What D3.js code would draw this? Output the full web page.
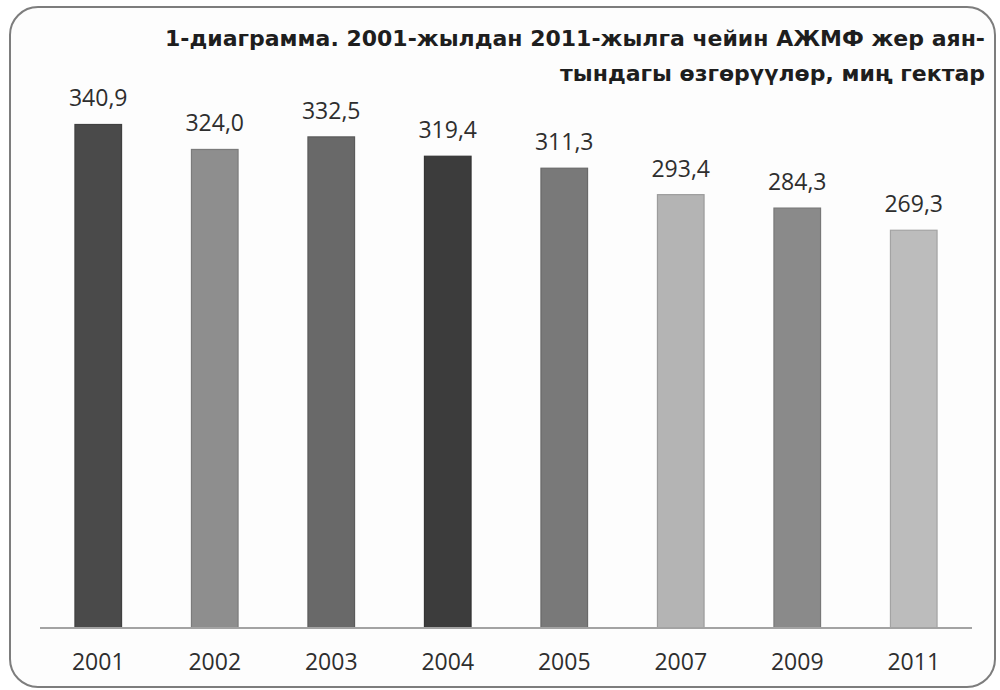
<!DOCTYPE html>
<html>
<head>
<meta charset="utf-8">
<script src="https://cdn.jsdelivr.net/npm/d3@7"></script>
<style>
body { margin:0; background:#fff; }
svg text { font-family: "Open Sans", sans-serif; }
</style>
</head>
<body>
<div id="chart"></div>
<script>
let years = ['2001','2002','2003','2004','2005','2007','2009','2011']
let values = [340.9, 324.0, 332.5, 319.4, 311.3, 293.4, 284.3, 269.3]
let bar_colors = ['#4a4a4a','#8e8e8e','#696969','#3c3c3c','#797979','#b4b4b4','#8a8a8a','#bcbcbc']
let title_lines = ['1-диаграмма. 2001-жылдан 2011-жылга чейин АЖМФ жер аян-',
  'тындагы өзгөрүүлөр, миң гектар']

let W = 1000, H = 690
let baseline_y = 628

let svg = d3.select('#chart').append('svg')
.attr('width', W)
.attr('height', H)

// frame
svg.append('rect')
.attr('x', 10)
.attr('y', 7)
.attr('width', 985)
.attr('height', 680)
.attr('rx', 28)
.attr('ry', 28)
.attr('fill', '#fdfdfd')
.attr('stroke', '#7d7d7d')
.attr('stroke-width', 2)

let x = d3.scaleBand()
.domain(years)
.range([40, 972])
.paddingInner(0.6)
.paddingOuter(0.3)

let y = d3.scaleLinear()
.domain([0, 400])
.range([baseline_y, baseline_y - 400*1.477])

let g = svg.append('g')

g.selectAll('rect.bar')
.data(years)
.join('rect')
.attr('class', 'bar')
.attr('x', d => x(d))
.attr('width', x.bandwidth())
.attr('y', (d,i) => y(values[i]))
.attr('height', (d,i) => y(0) - y(values[i]))
.attr('fill', (d,i) => bar_colors[i])
.attr('stroke', (d,i) => d3.color(bar_colors[i]).darker(0.4))
.attr('stroke-width', 1.2)

g.selectAll('text.val')
.data(years)
.join('text')
.attr('class', 'val')
.attr('x', d => x(d) + x.bandwidth()/2)
.attr('y', (d,i) => y(values[i]) - 18)
.attr('text-anchor', 'middle')
.attr('fill', '#2e2e2e')
.style('font-size', '23px')
.text((d,i) => d3.format('.1f')(values[i]).replace('.', ','))

// axis
let xAxis = d3.axisBottom(x).tickSize(0).tickPadding(26)
let ax = svg.append('g')
.attr('transform', `translate(0,${baseline_y})`)
.call(xAxis)

ax.select('.domain')
.attr('d', `M40,0H972`)
.attr('stroke', '#a3a3a3')
.attr('stroke-width', 2)

ax.selectAll('text')
.attr('fill', '#2e2e2e')
.style('font-size', '23px')
.style('font-family', '"Open Sans", sans-serif')

// title
svg.selectAll('text.title')
.data(title_lines)
.join('text')
.attr('class', 'title')
.attr('x', 985)
.attr('y', (d,i) => 46 + i*35)
.attr('text-anchor', 'end')
.attr('fill', '#1e1e1e')
.style('font-family', '"DejaVu Sans", Verdana, sans-serif')
.style('font-weight', 'bold')
.style('font-size', '22px')
.text(d => d)
</script>
</body>
</html>
